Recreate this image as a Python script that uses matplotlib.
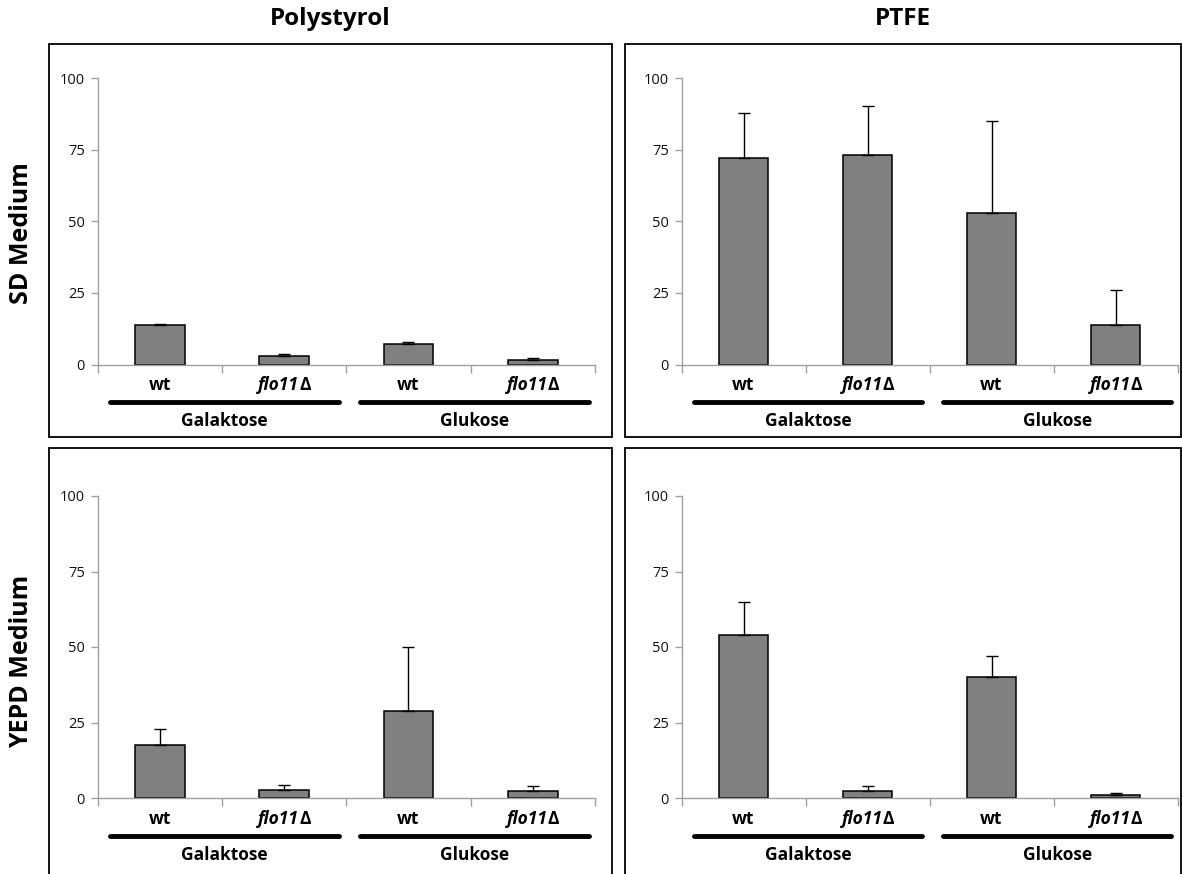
import matplotlib
matplotlib.use("Agg")
import matplotlib.pyplot as plt
from matplotlib.patches import Rectangle
from matplotlib.transforms import offset_copy

plt.rcParams["font.family"] = ["Open Sans", "DejaVu Sans"]

W, H = 1182, 874

strains = ["wt", "flo11Δ", "wt", "flo11Δ"]
sugars = ["Galaktose", "Glukose"]
surfaces = ["Polystyrol", "PTFE"]
media = ["SD Medium", "YEPD Medium"]

sd_poly_mean = [13.7, 2.9, 7.0, 1.6]
sd_poly_err = [0.5, 0.9, 0.8, 0.8]
sd_ptfe_mean = [72.0, 73.0, 53.0, 13.8]
sd_ptfe_err = [15.8, 17.3, 31.9, 12.1]
yepd_poly_mean = [17.4, 2.5, 28.7, 2.3]
yepd_poly_err = [5.4, 1.9, 21.3, 1.7]
yepd_ptfe_mean = [53.9, 2.4, 40.0, 1.0]
yepd_ptfe_err = [10.9, 1.6, 7.1, 0.5]

yticks = [0, 25, 50, 75, 100]


def fx(x):
    return x / W


def fy(y):
    return 1 - y / H


def add_ax(fig, left, right, top, bottom):
    return fig.add_axes([fx(left), fy(bottom), fx(right) - fx(left), fy(top) - fy(bottom)])


def strain_label(fig, ax, i, lab, ypos):
    tr = ax.get_xaxis_transform()
    if lab == "wt":
        ax.text(i, ypos, lab, transform=tr, ha="center", va="center",
                fontsize=12.5, fontweight="bold")
        return
    # italic gene name, upright delta
    t1 = offset_copy(tr, fig=fig, x=15, y=0, units="dots")
    ax.text(i, ypos, lab[:-1], transform=t1, ha="right", va="center",
            fontsize=12.5, fontweight="bold", fontstyle="italic")
    ax.text(i, ypos, lab[-1], transform=t1, ha="left", va="center",
            fontsize=12.5, fontweight="bold")


def draw_panel(fig, ax, means, errs, height_px):
    x = range(len(means))
    ax.bar(x, means, width=0.4, color="#808080", edgecolor="black", linewidth=1.1, zorder=2)
    ax.errorbar(x, means, yerr=[[0] * len(errs), errs], fmt="none", ecolor="black",
                elinewidth=1.0, capsize=4, capthick=1.0, zorder=3)
    ax.set_xlim(-0.5, 3.5)
    ax.set_ylim(0, 100)
    ax.set_yticks(yticks)
    ax.tick_params(axis="y", length=5, width=1, color="#A0A0A0", labelsize=10.5,
                   labelcolor="#111111", pad=4)
    ax.set_xticks([-0.5, 0.5, 1.5, 2.5, 3.5], minor=True)
    ax.set_xticks([0, 1, 2, 3])
    ax.set_xticklabels([])
    ax.tick_params(axis="x", which="major", length=0)
    ax.tick_params(axis="x", which="minor", length=6, width=1, color="#A0A0A0")
    for s in ["top", "right"]:
        ax.spines[s].set_visible(False)
    for s in ["left", "bottom"]:
        ax.spines[s].set_color("#A0A0A0")
        ax.spines[s].set_linewidth(1.0)
    ax.patch.set_alpha(0)

    tr = ax.get_xaxis_transform()
    for i, lab in enumerate(strains):
        strain_label(fig, ax, i, lab, -20.5 / height_px)
    for (x0, x1), lab in zip([(-0.4, 1.44), (1.61, 3.45)], sugars):
        ax.plot([x0, x1], [-37.5 / height_px] * 2, transform=tr, color="black",
                linewidth=3.5, solid_capstyle="round", clip_on=False)
        ax.text((x0 + x1) / 2, -56.5 / height_px, lab, transform=tr, ha="center",
                va="center", fontsize=12.5, fontweight="bold")


fig = plt.figure(figsize=(W / 100, H / 100), dpi=100)

# panel frames
for (l, r, t, b) in [(49, 612, 44, 437), (625, 1181, 44, 437),
                     (49, 612, 448, 880), (625, 1181, 448, 880)]:
    fig.patches.append(Rectangle((fx(l), fy(b)), fx(r) - fx(l), fy(t) - fy(b),
                                 transform=fig.transFigure, fill=False,
                                 edgecolor="black", linewidth=1.3))

ax_tl = add_ax(fig, 97.5, 595, 78, 364.5)
draw_panel(fig, ax_tl, sd_poly_mean, sd_poly_err, 286.5)
ax_tr = add_ax(fig, 681.5, 1177.5, 78, 364.5)
draw_panel(fig, ax_tr, sd_ptfe_mean, sd_ptfe_err, 286.5)
ax_bl = add_ax(fig, 97.5, 595, 496, 798)
draw_panel(fig, ax_bl, yepd_poly_mean, yepd_poly_err, 302)
ax_br = add_ax(fig, 681.5, 1177.5, 496, 798)
draw_panel(fig, ax_br, yepd_ptfe_mean, yepd_ptfe_err, 302)

fig.text(fx(330), fy(19), surfaces[0], ha="center", va="center", fontsize=17.5, fontweight="bold")
fig.text(fx(903), fy(19), surfaces[1], ha="center", va="center", fontsize=17.5, fontweight="bold")
fig.text(fx(22), fy(233), media[0], ha="center", va="center", rotation=90,
         fontsize=18, fontweight="bold")
fig.text(fx(22), fy(661), media[1], ha="center", va="center", rotation=90,
         fontsize=18, fontweight="bold")

fig.savefig("out.png", dpi=100)
